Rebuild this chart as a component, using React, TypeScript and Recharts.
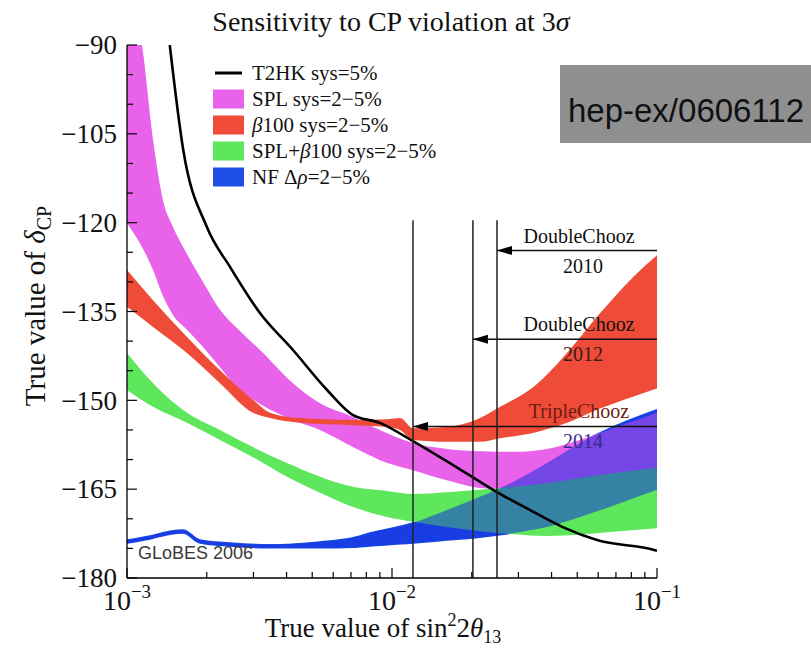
import React from 'react';
import { ComposedChart, Area, Line, XAxis, YAxis, ReferenceLine, Legend } from 'recharts';

const SERIF = '"Liberation Serif", "Times New Roman", Times, serif';
const SANS = '"Liberation Sans", Arial, sans-serif';

// ---------- data ----------
// T2HK sys=5% (black curve)
const t2hkX = [0.00145, 0.00163, 0.002, 0.00245, 0.00318, 0.00423, 0.0057, 0.00713, 0.009, 0.012, 0.0202, 0.0249, 0.0331, 0.0441, 0.0594, 0.0983, 0.1];
const t2hkY = [-90, -107.7, -120.7, -127.5, -135.3, -141.5, -148.3, -152.5, -153.8, -156.9, -163.0, -165.5, -168.5, -171.4, -173.6, -175.3, -175.4];

// SPL sys=2-5% (pink band)
const splX = [0.001, 0.001139, 0.001254, 0.001367, 0.001491, 0.001684, 0.001935, 0.002243, 0.002598, 0.003177, 0.00423, 0.005351, 0.007125, 0.009004, 0.012, 0.01612, 0.02148, 0.02861, 0.03845, 0.05122, 0.06823, 0.1];
const splHigh = [-80, -90, -106.0, -116.2, -120.7, -125.3, -130.0, -134.7, -137.8, -141.5, -147.1, -150.5, -152.8, -155.0, -157.2, -158.2, -158.6, -158.7, -158.2, -156.7, -154.7, -152.1];
const splLow = [-120.1, -124.1, -128.0, -132.4, -135.6, -138.1, -141.0, -144.4, -147.8, -150.6, -153.3, -155.0, -157.9, -160.1, -161.8, -163.5, -164.8, -165.1, -164.8, -164.1, -163.1, -161.8];

// beta100 sys=2-5% (red band)
const betaX = [0.001, 0.001254, 0.001684, 0.002243, 0.002988, 0.003464, 0.004496, 0.007125, 0.009574, 0.01072, 0.012, 0.01612, 0.02148, 0.02556, 0.03405, 0.04575, 0.06094, 0.08115, 0.1];
const betaHigh = [-128.0, -133.1, -139.3, -144.9, -149.9, -152.1, -153.0, -153.3, -153.2, -153.0, -154.7, -154.5, -153.0, -151.1, -147.8, -142.0, -135.3, -129.2, -125.5];
const betaLow = [-134.2, -137.6, -142.0, -147.1, -152.1, -153.0, -153.8, -154.2, -154.5, -155.0, -156.7, -157.0, -157.0, -156.4, -155.5, -153.8, -151.4, -149.4, -148.0];

// SPL+beta100 sys=2-5% (green band)
const comboX = [0.001, 0.001254, 0.001684, 0.002243, 0.002988, 0.004016, 0.005351, 0.007125, 0.009574, 0.012, 0.01612, 0.02148, 0.02861, 0.03845, 0.05122, 0.06823, 0.1];
const comboHigh = [-142.0, -147.1, -152.1, -155.0, -157.9, -160.6, -162.9, -164.6, -165.3, -165.8, -165.5, -165.1, -164.6, -164.0, -163.1, -162.3, -161.4];
const comboLow = [-148.3, -151.1, -153.8, -156.7, -159.6, -162.9, -165.6, -168.0, -169.7, -170.5, -171.4, -172.1, -172.6, -172.9, -172.7, -172.2, -171.6];

// NF delta rho = 2-5% (blue band)
const nfX = [0.001, 0.001221, 0.001453, 0.001627, 0.001886, 0.002447, 0.003464, 0.005351, 0.007125, 0.00826, 0.012, 0.01612, 0.02148, 0.02861, 0.03845, 0.05122, 0.06823, 0.1];
const nfHigh = [-173.6, -172.9, -172.1, -171.9, -173.6, -174.1, -174.4, -173.9, -173.2, -172.4, -170.7, -168.5, -166.3, -163.8, -160.6, -157.2, -154.5, -151.6];
const nfLow = [-174.1, -173.4, -172.6, -172.4, -174.1, -174.6, -174.9, -174.9, -174.8, -174.6, -174.1, -173.6, -173.1, -172.4, -171.4, -169.7, -167.8, -165.1];

// reactor experiments
const reactorX = [0.012, 0.0202, 0.0249];
const reactorTopY = -119.6;
const arrowFromX = [0.0249, 0.0202, 0.012];
const arrowY = [-124.7, -139.7, -154.4];
const arrowName = ['DoubleChooz', 'DoubleChooz', 'TripleChooz'];
const arrowYear = ['2010', '2012', '2014'];
const arrowNameColor = ['#111', '#111', '#6e1c10'];
const arrowYearColor = ['#111', '#3a1a14', '#3a2a8a'];

// ticks
const xMajorTicks = [0.001, 0.01, 0.1];
const xMinorTicks = [0.002, 0.003, 0.004, 0.005, 0.006, 0.007, 0.008, 0.009, 0.02, 0.03, 0.04, 0.05, 0.06, 0.07, 0.08, 0.09];
const yMajorTicks = [-180, -165, -150, -135, -120, -105, -90];
const yMinorTicks = [-175, -170, -160, -155, -145, -140, -130, -125, -115, -110, -100, -95];

const legendLabels = ['T2HK sys=5%', 'SPL sys=2\u22125%', '\u03b2100 sys=2\u22125%', 'SPL+\u03b2100 sys=2\u22125%', 'NF \u0394\u03c1=2\u22125%'];

const PINK = '#e962ea';
const RED = '#ee4c38';
const GREEN = '#5ee65c';
const BLUE = '#1e4ee6';
const BLUE_TOP = '#1430e0';

// ---------- built tables ----------
const t2hkData = t2hkX.map((x, i) => ({ x, y: t2hkY[i] }));
const band = (xs: number[], lo: number[], hi: number[]) => xs.map((x, i) => ({ x, range: [lo[i], hi[i]] }));
const splData = band(splX, splLow, splHigh);
const betaData = band(betaX, betaLow, betaHigh);
const comboData = band(comboX, comboLow, comboHigh);
const nfData = band(nfX, nfLow, nfHigh);
const xTicks = [...xMajorTicks, ...xMinorTicks].sort((a, b) => a - b);
const yTicks = [...yMajorTicks, ...yMinorTicks].sort((a, b) => a - b);
const legendItems = [
  { kind: 'line', color: '#000', label: legendLabels[0] },
  { kind: 'box', color: PINK, label: legendLabels[1] },
  { kind: 'box', color: RED, label: legendLabels[2] },
  { kind: 'box', color: GREEN, label: legendLabels[3] },
  { kind: 'box', color: BLUE, label: legendLabels[4] },
];

const isMajorX = (v: number) => xMajorTicks.some((m) => Math.abs(m - v) < 1e-9);
const isMajorY = (v: number) => yMajorTicks.includes(v);

const BottomTick = (props: any) => {
  const { x, y, payload } = props;
  const v = payload.value;
  const major = isMajorX(v);
  const exp = Math.round(Math.log10(v));
  return (
    <g>
      <line x1={x} x2={x} y1={y} y2={y - (major ? 10 : 6)} stroke="#000" strokeWidth={1.2} />
      {major && (
        <text x={x} y={y + 32} textAnchor="middle" fontFamily={SERIF} fontSize={28} fill="#111">
          10<tspan dy={-12} fontSize={19}>{'\u2212' + -exp}</tspan>
        </text>
      )}
    </g>
  );
};
const TopTick = (props: any) => {
  const { x, y, payload } = props;
  const major = isMajorX(payload.value);
  return <line x1={x} x2={x} y1={y} y2={y + (major ? 10 : 6)} stroke="#000" strokeWidth={1.2} />;
};
const LeftTick = (props: any) => {
  const { x, y, payload } = props;
  const v = payload.value;
  const major = isMajorY(v);
  return (
    <g>
      <line x1={x} x2={x + (major ? 10 : 6)} y1={y} y2={y} stroke="#000" strokeWidth={1.2} />
      {major && (
        <text x={x - 10} y={y} dy="0.34em" textAnchor="end" fontFamily={SERIF} fontSize={27} fill="#111">
          {'\u2212' + Math.abs(v)}
        </text>
      )}
    </g>
  );
};
const RightTick = (props: any) => {
  const { x, y, payload } = props;
  const major = isMajorY(payload.value);
  return <line x1={x} x2={x - (major ? 10 : 6)} y1={y} y2={y} stroke="#000" strokeWidth={1.2} />;
};

const ArrowLabel = (props: any) => {
  const { viewBox, name, year, nameColor, yearColor } = props;
  if (!viewBox) return null;
  const { x, y, width } = viewBox;
  const cx = x + width - 78;
  return (
    <g>
      <polygon points={`${x},${y} ${x + 15},${y - 4.5} ${x + 15},${y + 4.5}`} fill="#000" />
      <text x={cx} y={y - 8} textAnchor="middle" fontFamily={SERIF} fontSize={20} fill={nameColor}>{name}</text>
      <text x={cx + 4} y={y + 22} textAnchor="middle" fontFamily={SERIF} fontSize={20} fill={yearColor}>{year}</text>
    </g>
  );
};

const fmtLabel = (s: string) =>
  s.split(/([\u03b2\u03c1])/).map((p, i) =>
    /[\u03b2\u03c1]/.test(p) ? <i key={i}>{p}</i> : <span key={i}>{p}</span>
  );

const renderLegend = () => (
  <div style={{ fontFamily: SERIF, fontSize: 21, color: '#111' }}>
    {legendItems.map((it, i) => (
      <div key={i} style={{ display: 'flex', alignItems: 'center', height: 26 }}>
        <svg width={31} height={26} style={{ display: 'block' }}>
          {it.kind === 'line' ? (
            <line x1={2} x2={29} y1={13} y2={13} stroke="#000" strokeWidth={3} />
          ) : (
            <rect x={0} y={3.5} width={31} height={19} fill={it.color} />
          )}
        </svg>
        <span style={{ marginLeft: 8, whiteSpace: 'nowrap', lineHeight: '26px' }}>{fmtLabel(it.label)}</span>
      </div>
    ))}
  </div>
);

export default function App() {
  return (
    <div style={{ position: 'absolute', left: 0, top: 0, width: 811, height: 648, background: '#fff' }}>
      <ComposedChart width={811} height={648} margin={{ top: 45, right: 154, bottom: 0, left: 0 }}>
        <XAxis
          dataKey="x" type="number" scale="log" domain={[0.001, 0.1]} allowDataOverflow
          ticks={xTicks} interval={0} tick={<BottomTick />} tickSize={0} tickMargin={0} tickLine={false}
          height={70} axisLine={{ stroke: '#000', strokeWidth: 1.3 }}
        />
        <XAxis
          xAxisId="top" orientation="top" dataKey="x" type="number" scale="log" domain={[0.001, 0.1]} allowDataOverflow
          ticks={xTicks} interval={0} tick={<TopTick />} tickSize={0} tickMargin={0} tickLine={false}
          height={0} axisLine={{ stroke: '#000', strokeWidth: 1.3 }}
        />
        <YAxis
          type="number" domain={[-180, -90]} allowDataOverflow ticks={yTicks} interval={0}
          tick={<LeftTick />} tickSize={0} tickMargin={0} tickLine={false} width={127}
          axisLine={{ stroke: '#000', strokeWidth: 1.3 }}
        />
        <YAxis
          yAxisId="right" orientation="right" type="number" domain={[-180, -90]} allowDataOverflow ticks={yTicks} interval={0}
          tick={<RightTick />} tickSize={0} tickMargin={0} tickLine={false} width={0}
          axisLine={{ stroke: '#000', strokeWidth: 1.3 }}
        />
        <Legend
          layout="horizontal" verticalAlign="middle" align="center" content={renderLegend}
          wrapperStyle={{ position: 'absolute', left: 213, top: 60, width: 260, height: 130 }}
        />
        <Area data={nfData} dataKey="range" type="monotone" fill={BLUE} fillOpacity={1} stroke={BLUE} strokeWidth={1.5} isAnimationActive={false} legendType="none" />
        <Area data={splData} dataKey="range" type="monotone" fill={PINK} fillOpacity={1} stroke="none" isAnimationActive={false} legendType="none" />
        <Area data={betaData} dataKey="range" type="monotone" fill={RED} fillOpacity={1} stroke="none" isAnimationActive={false} legendType="none" />
        <Area data={comboData} dataKey="range" type="monotone" fill={GREEN} fillOpacity={1} stroke="none" isAnimationActive={false} legendType="none" />
        <Area data={nfData} dataKey="range" type="monotone" fill={BLUE_TOP} fillOpacity={0.55} stroke="none" isAnimationActive={false} legendType="none" />
        <Line data={t2hkData} dataKey="y" type="monotone" stroke="#000" strokeWidth={2.6} dot={false} isAnimationActive={false} legendType="none" />
        {reactorX.map((rx, i) => (
          <ReferenceLine key={`v${i}`} segment={[{ x: rx, y: reactorTopY }, { x: rx, y: -180 }]} stroke="#222" strokeWidth={1.5} />
        ))}
        {arrowY.map((ay, i) => (
          <ReferenceLine
            key={`a${i}`}
            segment={[{ x: arrowFromX[i], y: ay }, { x: 0.1, y: ay }]}
            stroke="#111"
            strokeWidth={1.5}
            label={<ArrowLabel name={arrowName[i]} year={arrowYear[i]} nameColor={arrowNameColor[i]} yearColor={arrowYearColor[i]} />}
          />
        ))}
      </ComposedChart>
      <svg width={811} height={648} style={{ position: 'absolute', left: 0, top: 0, pointerEvents: 'none' }}>
        <text x={391} y={31} textAnchor="middle" fontFamily={SERIF} fontSize={28} fill="#111">
          Sensitivity to CP violation at 3<tspan fontStyle="italic">{'\u03c3'}</tspan>
        </text>
        <text x={383} y={637} textAnchor="middle" fontFamily={SERIF} fontSize={27} fill="#111">
          True value of sin<tspan dy={-11} fontSize={18}>2</tspan>
          <tspan dy={11}>2</tspan>
          <tspan fontStyle="italic">{'\u03b8'}</tspan>
          <tspan dy={6} fontSize={18}>13</tspan>
        </text>
        <text transform="translate(45,306) rotate(-90)" textAnchor="middle" fontFamily={SERIF} fontSize={29} fill="#111">
          True value of <tspan fontStyle="italic">{'\u03b4'}</tspan>
          <tspan dy={6} fontSize={20}>CP</tspan>
        </text>
        <text x={138} y={559} fontFamily={SANS} fontSize={18} fill="#3a3a3a">GLoBES 2006</text>
        <rect x={560} y={65} width={251} height={78} fill="#8f8f8f" />
        <text x={686} y={122} textAnchor="middle" fontFamily={SANS} fontSize={33} fill="#111">hep-ex/0606112</text>
      </svg>
    </div>
  );
}
